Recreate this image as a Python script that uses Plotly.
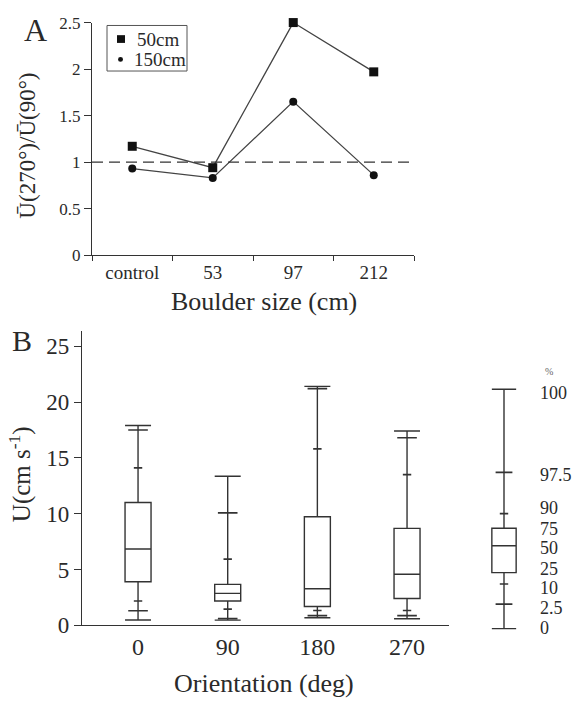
import plotly.graph_objects as go

# ---------------- Data ----------------
# Panel A
sizes = ["control", "53", "97", "212"]
ratio_50cm = [1.17, 0.94, 2.50, 1.97]
ratio_150cm = [0.93, 0.83, 1.65, 0.86]
series_names = ["50cm", "150cm"]

# Panel B (percentiles of U, cm/s)
orient_labels = ["0", "90", "180", "270"]
p0 = [0.47, 0.46, 0.67, 0.58]
p2_5 = [1.30, 0.60, 0.87, 0.87]
p10 = [2.17, 1.45, 1.33, 1.33]
p25 = [3.90, 2.17, 1.68, 2.40]
p50 = [6.83, 2.86, 3.27, 4.57]
p75 = [11.00, 3.67, 9.72, 8.68]
p90 = [14.10, 5.93, 15.80, 13.50]
p97_5 = [17.50, 10.07, 21.20, 16.80]
p100 = [17.90, 13.35, 21.40, 17.40]

# Reference (legend) box
ref_stats = {"p0": -0.30, "p2_5": 1.90, "p10": 3.70, "p25": 4.72, "p50": 7.12,
             "p75": 8.70, "p90": 10.00, "p97_5": 13.70, "p100": 21.15}
pct_labels = ["100", "97.5", "90", "75", "50", "25", "10", "2.5", "0"]
pct_label_y = [20.8, 13.5, 10.5, 8.6, 6.9, 5.0, 3.3, 1.56, -0.26]  # text positions

# ---------------- Layout helpers ----------------
W, H = 579, 710
def fx(p):
    return p / W
def fy(p):
    return 1 - p / H

FONT = "Liberation Serif"
INK = "#2a2a2a"

fig = go.Figure()

# ---- Panel A ----
for vals, name, sym, sz in [(ratio_50cm, series_names[0], "square", 9),
                            (ratio_150cm, series_names[1], "circle", 8)]:
    fig.add_trace(go.Scatter(x=sizes, y=vals, mode="lines+markers", name=name,
                             xaxis="x", yaxis="y", cliponaxis=False,
                             line=dict(color="#444", width=1.3),
                             marker=dict(symbol=sym, size=sz, color="#111"),
                             showlegend=False))

# ---- Panel B boxes ----
xs = list(range(len(orient_labels)))
for i in xs:
    fig.add_trace(go.Box(x=[i], q1=[p25[i]], median=[p50[i]], q3=[p75[i]],
                         lowerfence=[p0[i]], upperfence=[p100[i]],
                         width=0.29, whiskerwidth=1, boxpoints=False,
                         fillcolor="white", line=dict(color="#333", width=1.4),
                         xaxis="x2", yaxis="y2", showlegend=False, hoverinfo="skip"))
fig.add_trace(go.Scatter(x=xs + xs, y=p2_5 + p97_5, mode="markers", xaxis="x2", yaxis="y2",
                         marker=dict(symbol="line-ew", size=14,
                                     line=dict(color="#333", width=1.6)),
                         showlegend=False, hoverinfo="skip"))
fig.add_trace(go.Scatter(x=xs + xs, y=p10 + p90, mode="markers", xaxis="x2", yaxis="y2",
                         marker=dict(symbol="line-ew", size=6,
                                     line=dict(color="#333", width=1.6)),
                         showlegend=False, hoverinfo="skip"))

# ---- Reference box ----
fig.add_trace(go.Box(x=[0], q1=[ref_stats["p25"]], median=[ref_stats["p50"]],
                     q3=[ref_stats["p75"]], lowerfence=[ref_stats["p0"]],
                     upperfence=[ref_stats["p100"]], width=0.27, whiskerwidth=1,
                     boxpoints=False, fillcolor="white",
                     line=dict(color="#333", width=1.4),
                     xaxis="x3", yaxis="y3", showlegend=False, hoverinfo="skip"))
fig.add_trace(go.Scatter(x=[0, 0], y=[ref_stats["p2_5"], ref_stats["p97_5"]], mode="markers",
                         xaxis="x3", yaxis="y3",
                         marker=dict(symbol="line-ew", size=12,
                                     line=dict(color="#333", width=1.6)),
                         showlegend=False, hoverinfo="skip"))
fig.add_trace(go.Scatter(x=[0, 0], y=[ref_stats["p10"], ref_stats["p90"]], mode="markers",
                         xaxis="x3", yaxis="y3",
                         marker=dict(symbol="line-ew", size=6,
                                     line=dict(color="#333", width=1.6)),
                         showlegend=False, hoverinfo="skip"))

# B geometry: y=0 at 636px, 11.52 px per unit
B0, BSC = 636, 11.52
B_top = 26.4
ref_low = -0.5

def ann(text, x, y, size, **kw):
    d = dict(text=text, x=fx(x), y=fy(y), xref="paper", yref="paper", showarrow=False,
             xanchor="center", yanchor="middle",
             font=dict(family=FONT, size=size, color=INK))
    d.update(kw)
    return d

annotations = [
    ann("A", 35, 22, 32),
    ann("B", 22, 342, 30),
    ann("Ū(270°)/Ū(90°)", 28, 141, 23, textangle=-90),
    ann("Boulder size (cm)", 264, 302, 26),
    ann("U(cm s<sup>-1</sup>)", 20, 480, 25, textangle=-90),
    ann("Orientation (deg)", 264, 696, 26),
    ann("%", 549, 374, 10, font=dict(family=FONT, size=10, color="#666")),
    # legend labels
    ann(series_names[0], 135, 31, 19, xanchor="left"),
    ann(series_names[1], 132, 52, 19, xanchor="left"),
]
for lab, yv in zip(pct_labels, pct_label_y):
    annotations.append(dict(text=lab, x=fx(538), y=yv, xref="paper", yref="y3",
                            xanchor="left", yanchor="middle", showarrow=False,
                            font=dict(family=FONT, size=18, color=INK)))

shapes = [
    dict(type="line", xref="x domain", yref="y", x0=0, x1=1, y0=1, y1=1,
         line=dict(color="#333", width=1.3, dash="11px,6px")),
    # legend frame and swatches
    dict(type="rect", xref="paper", yref="paper", x0=fx(107), x1=fx(187), y0=fy(64), y1=fy(17),
         line=dict(color="#555", width=1), fillcolor="white", layer="above"),
    dict(type="rect", xref="paper", yref="paper", x0=fx(117), x1=fx(125), y0=fy(35), y1=fy(27),
         line=dict(width=0), fillcolor="#111", layer="above"),
    dict(type="circle", xref="paper", yref="paper", x0=fx(118), x1=fx(123), y0=fy(54.5), y1=fy(49.5),
         line=dict(width=0), fillcolor="#111", layer="above"),
]

axis_common = dict(showgrid=False, zeroline=False, linecolor="#333", linewidth=1.3,
                   tickcolor="#333", tickwidth=1.2)

fig.update_layout(
    width=W, height=H, margin=dict(l=0, r=0, t=0, b=0),
    paper_bgcolor="white", plot_bgcolor="white",
    font=dict(family=FONT, color=INK),
    showlegend=False,
    xaxis=dict(domain=[fx(92), fx(414)], anchor="y", type="category",
               range=[-0.5, 3.5], showline=True, ticks="outside", ticklen=5,
               tickson="boundaries", tickfont=dict(size=19), **axis_common),
    yaxis=dict(domain=[fy(254), fy(14)], anchor="x", range=[0, 2.5],
               tickvals=[0, 0.5, 1, 1.5, 2, 2.5], ticktext=["0", "0.5", "1", "1.5", "2", "2.5"],
               showline=True, ticks="outside", ticklen=7, tickfont=dict(size=17),
               **axis_common),
    xaxis2=dict(domain=[fx(82), fx(449)], anchor="y2", range=[-0.625, 3.468],
                tickvals=xs, ticktext=orient_labels, showline=True, ticks="",
                tickfont=dict(size=24), **axis_common),
    yaxis2=dict(domain=[fy(B0), fy(B0 - B_top * BSC)], anchor="x2", range=[0, B_top],
                tickvals=[0, 5, 10, 15, 20, 25], showline=True, ticks="outside", ticklen=7,
                tickfont=dict(size=23), **axis_common),
    xaxis3=dict(domain=[fx(459), fx(549)], anchor="y3", range=[-0.5, 0.5], visible=False),
    yaxis3=dict(domain=[fy(B0 - ref_low * BSC), fy(B0 - B_top * BSC)], anchor="x3",
                range=[ref_low, B_top], visible=False),
    annotations=annotations,
    shapes=shapes,
)

fig.write_html("out.html", config={"displayModeBar": False},
               post_script="document.body.style.margin='0px';")
